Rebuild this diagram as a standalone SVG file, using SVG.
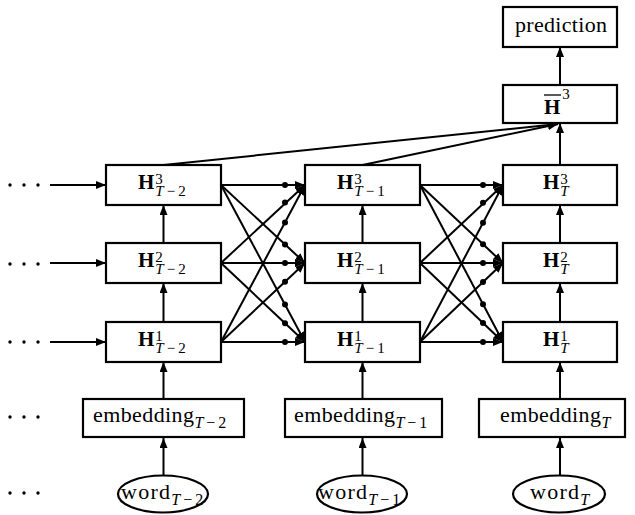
<svg xmlns="http://www.w3.org/2000/svg" width="635" height="515" viewBox="0 0 635 515">
<style>
.box{fill:#fff;stroke:#000;stroke-width:2.2}
.ar{stroke:#000;stroke-width:2;fill:none;marker-end:url(#ah)}
.dot{fill:#000}
text{font-family:"Liberation Serif","Times New Roman","DejaVu Serif",serif;fill:#000}
.H{font-weight:bold;font-size:21px}
.s{font-weight:normal;font-size:15px}
.it{font-style:italic}
.t{font-size:22px}
.ts{font-size:16px}
</style>
<defs>
<marker id="ah" viewBox="0 0 10 8" refX="10" refY="4" markerWidth="10" markerHeight="8" markerUnits="userSpaceOnUse" orient="auto"><path d="M0,0 L10,4 L0,8 z" fill="#000"/></marker>
</defs>
<rect width="635" height="515" fill="#fff"/>

<g id="connectors">
<line class="ar" x1="50" y1="185" x2="106" y2="185"/>
<line class="ar" x1="50" y1="263" x2="106" y2="263"/>
<line class="ar" x1="50" y1="342" x2="106" y2="342"/>
<line class="ar" x1="163.5" y1="243" x2="163.5" y2="205"/>
<line class="ar" x1="163.5" y1="322" x2="163.5" y2="283"/>
<line class="ar" x1="163.5" y1="398" x2="163.5" y2="362"/>
<line class="ar" x1="163.5" y1="475" x2="163.5" y2="438"/>
<line class="ar" x1="362.5" y1="243" x2="362.5" y2="205"/>
<line class="ar" x1="362.5" y1="322" x2="362.5" y2="283"/>
<line class="ar" x1="362.5" y1="398" x2="362.5" y2="362"/>
<line class="ar" x1="362.5" y1="475" x2="362.5" y2="438"/>
<line class="ar" x1="560" y1="243" x2="560" y2="205"/>
<line class="ar" x1="560" y1="322" x2="560" y2="283"/>
<line class="ar" x1="560" y1="398" x2="560" y2="362"/>
<line class="ar" x1="560" y1="475" x2="560" y2="438"/>
<line class="ar" x1="560" y1="165" x2="560" y2="123"/>
<line class="ar" x1="560" y1="85" x2="560" y2="47"/>
<line class="ar" x1="163.5" y1="165" x2="558" y2="124"/>
<line class="ar" x1="362.5" y1="165" x2="558" y2="124"/>
<line class="ar" x1="221" y1="185" x2="305" y2="185"/>
<line class="ar" x1="221" y1="185" x2="305" y2="263"/>
<line class="ar" x1="221" y1="185" x2="305" y2="342"/>
<line class="ar" x1="221" y1="263" x2="305" y2="185"/>
<line class="ar" x1="221" y1="263" x2="305" y2="263"/>
<line class="ar" x1="221" y1="263" x2="305" y2="342"/>
<line class="ar" x1="221" y1="342" x2="305" y2="185"/>
<line class="ar" x1="221" y1="342" x2="305" y2="263"/>
<line class="ar" x1="221" y1="342" x2="305" y2="342"/>
<g class="dot">
<circle cx="285" cy="185" r="3"/><circle cx="285" cy="244.4" r="3"/><circle cx="285" cy="304.6" r="3"/>
<circle cx="285" cy="202.6" r="3"/><circle cx="285" cy="263" r="3"/><circle cx="285" cy="323.2" r="3"/>
<circle cx="285" cy="222.4" r="3"/><circle cx="285" cy="281.8" r="3"/><circle cx="285" cy="342" r="3"/>
</g>
<line class="ar" x1="420" y1="185" x2="503" y2="185"/>
<line class="ar" x1="420" y1="185" x2="503" y2="263"/>
<line class="ar" x1="420" y1="185" x2="503" y2="342"/>
<line class="ar" x1="420" y1="263" x2="503" y2="185"/>
<line class="ar" x1="420" y1="263" x2="503" y2="263"/>
<line class="ar" x1="420" y1="263" x2="503" y2="342"/>
<line class="ar" x1="420" y1="342" x2="503" y2="185"/>
<line class="ar" x1="420" y1="342" x2="503" y2="263"/>
<line class="ar" x1="420" y1="342" x2="503" y2="342"/>
<g class="dot">
<circle cx="483" cy="185" r="3"/><circle cx="483" cy="244.2" r="3"/><circle cx="483" cy="304.2" r="3"/>
<circle cx="483" cy="202.8" r="3"/><circle cx="483" cy="263" r="3"/><circle cx="483" cy="323" r="3"/>
<circle cx="483" cy="222.8" r="3"/><circle cx="483" cy="282" r="3"/><circle cx="483" cy="342" r="3"/>
</g>
</g>

<g id="ellipsis" class="dot">
<circle cx="10" cy="185" r="1.7"/><circle cx="24" cy="185" r="1.7"/><circle cx="38" cy="185" r="1.7"/>
<circle cx="10" cy="264" r="1.7"/><circle cx="24" cy="264" r="1.7"/><circle cx="38" cy="264" r="1.7"/>
<circle cx="10" cy="342" r="1.7"/><circle cx="24" cy="342" r="1.7"/><circle cx="38" cy="342" r="1.7"/>
<circle cx="10" cy="417" r="1.7"/><circle cx="24" cy="417" r="1.7"/><circle cx="38" cy="417" r="1.7"/>
<circle cx="10" cy="493" r="1.7"/><circle cx="24" cy="493" r="1.7"/><circle cx="38" cy="493" r="1.7"/>
</g>

<g id="H3_Tm2"><rect class="box" x="106" y="165" width="115" height="40"/>
<text class="H" x="138" y="189">H<tspan class="s" dx="1" dy="-5">3</tspan><tspan class="s it" dx="-7.5" dy="12">T</tspan><tspan class="s" dx="3">−</tspan><tspan class="s" dx="3">2</tspan></text></g>
<g id="H2_Tm2"><rect class="box" x="106" y="243" width="115" height="40"/>
<text class="H" x="138" y="267">H<tspan class="s" dx="1" dy="-5">2</tspan><tspan class="s it" dx="-7.5" dy="12">T</tspan><tspan class="s" dx="3">−</tspan><tspan class="s" dx="3">2</tspan></text></g>
<g id="H1_Tm2"><rect class="box" x="106" y="322" width="115" height="40"/>
<text class="H" x="138" y="346">H<tspan class="s" dx="1" dy="-5">1</tspan><tspan class="s it" dx="-7.5" dy="12">T</tspan><tspan class="s" dx="3">−</tspan><tspan class="s" dx="3">2</tspan></text></g>
<g id="emb_Tm2"><rect class="box" x="83" y="399" width="161" height="38"/>
<text class="t" x="93" y="422"><tspan textLength="101" lengthAdjust="spacing">embedding</tspan><tspan class="ts it" dy="6">T</tspan><tspan class="ts" dx="3">−</tspan><tspan class="ts" dx="3">2</tspan></text></g>
<g id="word_Tm2"><ellipse class="box" cx="163" cy="494" rx="45" ry="18.5"/>
<text class="t" x="121" y="499"><tspan textLength="49" lengthAdjust="spacing">word</tspan><tspan class="ts it" dy="6">T</tspan><tspan class="ts" dx="3">−</tspan><tspan class="ts" dx="3">2</tspan></text></g>

<g id="H3_Tm1"><rect class="box" x="305" y="165" width="115" height="40"/>
<text class="H" x="337" y="189">H<tspan class="s" dx="1" dy="-5">3</tspan><tspan class="s it" dx="-7.5" dy="12">T</tspan><tspan class="s" dx="3">−</tspan><tspan class="s" dx="3">1</tspan></text></g>
<g id="H2_Tm1"><rect class="box" x="305" y="243" width="115" height="40"/>
<text class="H" x="337" y="267">H<tspan class="s" dx="1" dy="-5">2</tspan><tspan class="s it" dx="-7.5" dy="12">T</tspan><tspan class="s" dx="3">−</tspan><tspan class="s" dx="3">1</tspan></text></g>
<g id="H1_Tm1"><rect class="box" x="305" y="322" width="115" height="40"/>
<text class="H" x="337" y="346">H<tspan class="s" dx="1" dy="-5">1</tspan><tspan class="s it" dx="-7.5" dy="12">T</tspan><tspan class="s" dx="3">−</tspan><tspan class="s" dx="3">1</tspan></text></g>
<g id="emb_Tm1"><rect class="box" x="285" y="399" width="157" height="38"/>
<text class="t" x="294" y="422"><tspan textLength="101" lengthAdjust="spacing">embedding</tspan><tspan class="ts it" dy="6">T</tspan><tspan class="ts" dx="3">−</tspan><tspan class="ts" dx="3">1</tspan></text></g>
<g id="word_Tm1"><ellipse class="box" cx="362" cy="494" rx="45" ry="18.5"/>
<text class="t" x="318" y="499"><tspan textLength="49" lengthAdjust="spacing">word</tspan><tspan class="ts it" dy="6">T</tspan><tspan class="ts" dx="3">−</tspan><tspan class="ts" dx="3">1</tspan></text></g>

<g id="H3_T"><rect class="box" x="503" y="165" width="114" height="40"/>
<text class="H" x="543" y="189">H<tspan class="s" dx="1" dy="-5">3</tspan><tspan class="s it" dx="-7.5" dy="12">T</tspan></text></g>
<g id="H2_T"><rect class="box" x="503" y="243" width="114" height="40"/>
<text class="H" x="543" y="267">H<tspan class="s" dx="1" dy="-5">2</tspan><tspan class="s it" dx="-7.5" dy="12">T</tspan></text></g>
<g id="H1_T"><rect class="box" x="503" y="322" width="114" height="40"/>
<text class="H" x="543" y="346">H<tspan class="s" dx="1" dy="-5">1</tspan><tspan class="s it" dx="-7.5" dy="12">T</tspan></text></g>
<g id="emb_T"><rect class="box" x="479" y="399" width="146" height="38"/>
<text class="t" x="500" y="422"><tspan textLength="101" lengthAdjust="spacing">embedding</tspan><tspan class="ts it" dy="6">T</tspan></text></g>
<g id="word_T"><ellipse class="box" cx="559" cy="494" rx="46" ry="18.5"/>
<text class="t" x="530" y="499"><tspan textLength="49" lengthAdjust="spacing">word</tspan><tspan class="ts it" dy="6">T</tspan></text></g>

<g id="Hbar3"><rect class="box" x="503" y="85" width="114" height="38"/>
<line x1="544" y1="95" x2="561" y2="95" stroke="#000" stroke-width="1.3"/>
<text class="H" x="544" y="114">H<tspan class="s" dx="2" dy="-15">3</tspan></text></g>
<g id="prediction"><rect class="box" x="503" y="7" width="114" height="40"/>
<text class="t" x="515" y="32" textLength="92" lengthAdjust="spacing">prediction</text></g>
</svg>
